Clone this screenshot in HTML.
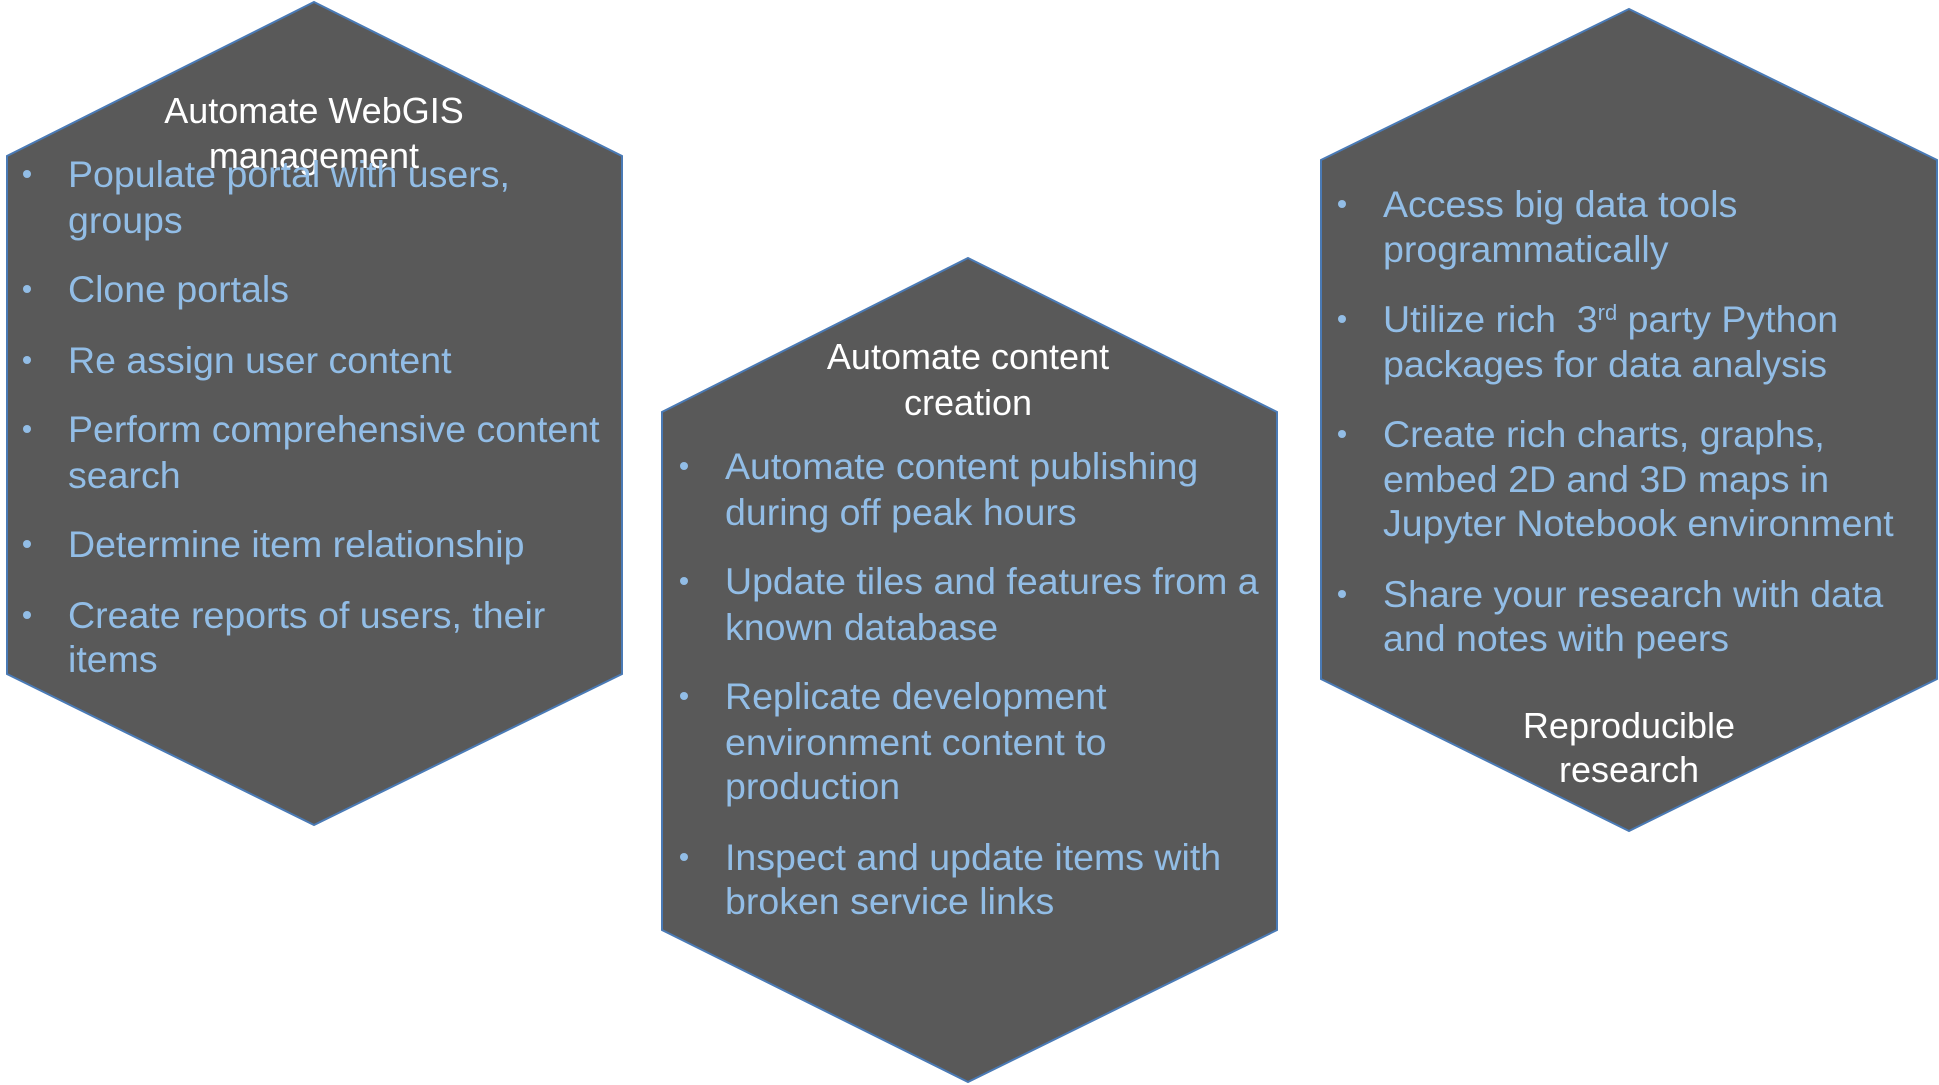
<!DOCTYPE html>
<html><head><meta charset="utf-8"><style>
html,body{margin:0;padding:0;background:#fff;width:1939px;height:1085px;overflow:hidden;position:relative;font-family:"Liberation Sans",Arial,sans-serif}
svg{position:absolute;left:0;top:0}
.t{position:absolute;height:44px;line-height:44px;font-size:37.5px;white-space:nowrap;color:#92bde6}
.w{color:#fff;text-align:center;width:600px;font-size:36px}
.b{position:absolute;width:8px;height:8px;border-radius:50%;background:#92bde6}
sup{font-size:22px;line-height:0;vertical-align:12px}
</style></head><body>
<svg width="1939" height="1085">
<g fill="#595959" stroke="#4a7ab5" stroke-width="2">
<polygon points="314,2 622,156 622,674 314,825 7,674 7,156"/>
<polygon points="968,258 1277,412 1277,930 968,1082 662,930 662,412"/>
<polygon points="1629,9 1937,160 1937,679 1629,831 1321,679 1321,160"/>
</g></svg>
<div class="t w" style="left:14px;top:89px">Automate WebGIS</div>
<div class="t w" style="left:14px;top:134px">management</div>
<div class="b" style="left:23px;top:170px"></div><div class="t" style="left:68px;top:152px">Populate portal with users,</div>
<div class="t" style="left:68px;top:198px">groups</div>
<div class="b" style="left:23px;top:285px"></div><div class="t" style="left:68px;top:267px">Clone portals</div>
<div class="b" style="left:23px;top:356px"></div><div class="t" style="left:68px;top:338px">Re assign user content</div>
<div class="b" style="left:23px;top:425px"></div><div class="t" style="left:68px;top:407px">Perform comprehensive content</div>
<div class="t" style="left:68px;top:453px">search</div>
<div class="b" style="left:23px;top:540px"></div><div class="t" style="left:68px;top:522px">Determine item relationship</div>
<div class="b" style="left:23px;top:611px"></div><div class="t" style="left:68px;top:593px">Create reports of users, their</div>
<div class="t" style="left:68px;top:637px">items</div>

<div class="t w" style="left:668px;top:335px">Automate content</div>
<div class="t w" style="left:668px;top:381px">creation</div>
<div class="b" style="left:680px;top:462px"></div><div class="t" style="left:725px;top:444px">Automate content publishing</div>
<div class="t" style="left:725px;top:490px">during off peak hours</div>
<div class="b" style="left:680px;top:577px"></div><div class="t" style="left:725px;top:559px">Update tiles and features from a</div>
<div class="t" style="left:725px;top:605px">known database</div>
<div class="b" style="left:680px;top:692px"></div><div class="t" style="left:725px;top:674px">Replicate development</div>
<div class="t" style="left:725px;top:720px">environment content to</div>
<div class="t" style="left:725px;top:764px">production</div>
<div class="b" style="left:680px;top:853px"></div><div class="t" style="left:725px;top:835px">Inspect and update items with</div>
<div class="t" style="left:725px;top:879px">broken service links</div>

<div class="b" style="left:1338px;top:200px"></div><div class="t" style="left:1383px;top:182px">Access big data tools</div>
<div class="t" style="left:1383px;top:227px">programmatically</div>
<div class="b" style="left:1338px;top:315px"></div><div class="t" style="left:1383px;top:297px">Utilize rich&nbsp; 3<sup>rd</sup> party Python</div>
<div class="t" style="left:1383px;top:342px">packages for data analysis</div>
<div class="b" style="left:1338px;top:430px"></div><div class="t" style="left:1383px;top:412px">Create rich charts, graphs,</div>
<div class="t" style="left:1383px;top:457px">embed 2D and 3D maps in</div>
<div class="t" style="left:1383px;top:501px">Jupyter Notebook environment</div>
<div class="b" style="left:1338px;top:590px"></div><div class="t" style="left:1383px;top:572px">Share your research with data</div>
<div class="t" style="left:1383px;top:616px">and notes with peers</div>
<div class="t w" style="left:1329px;top:704px">Reproducible</div>
<div class="t w" style="left:1329px;top:748px">research</div>
</body></html>
